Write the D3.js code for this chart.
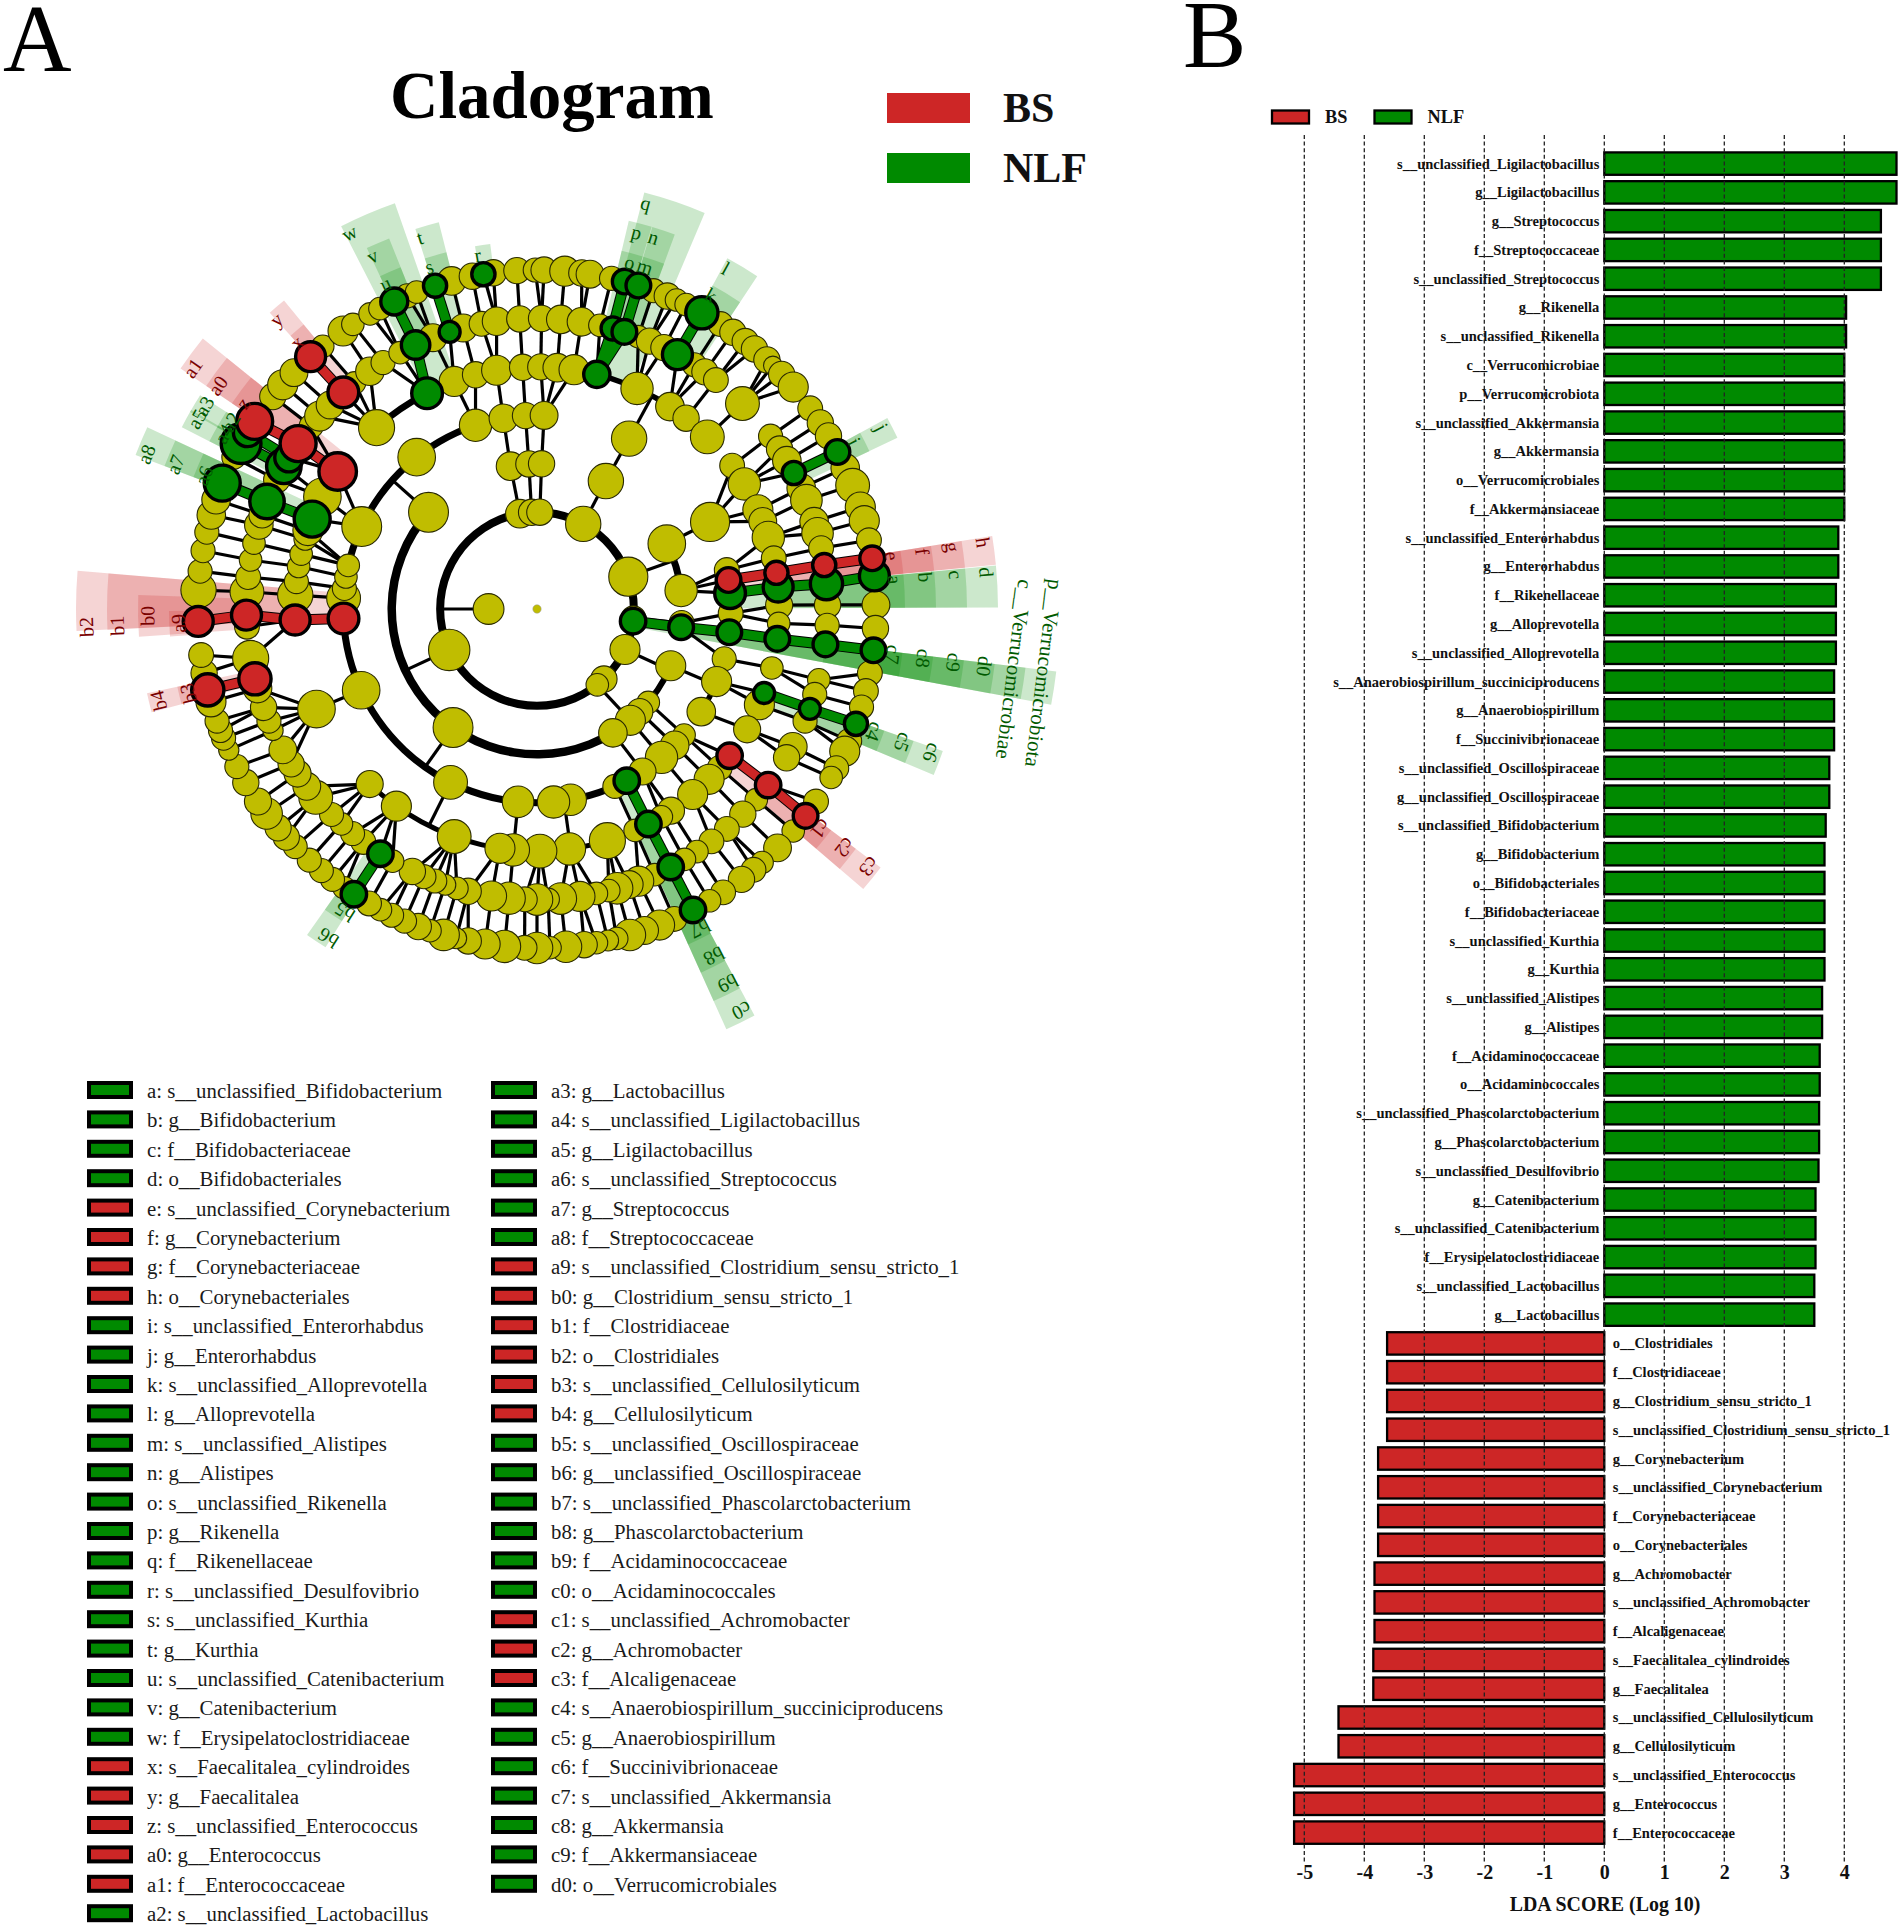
<!DOCTYPE html>
<html><head><meta charset="utf-8">
<style>html,body{margin:0;padding:0;background:#fff}svg{display:block}text{font-family:"Liberation Serif",serif}</style>
<script src="https://cdnjs.cloudflare.com/ajax/libs/d3/7.8.5/d3.min.js"></script>
</head><body><svg id="c" width="1900" height="1930"></svg>
<script>
// ---- LDA bars ----
const taxa=["s__unclassified_Ligilactobacillus","g__Ligilactobacillus","g__Streptococcus","f__Streptococcaceae","s__unclassified_Streptococcus","g__Rikenella","s__unclassified_Rikenella","c__Verrucomicrobiae","p__Verrucomicrobiota","s__unclassified_Akkermansia","g__Akkermansia","o__Verrucomicrobiales","f__Akkermansiaceae","s__unclassified_Enterorhabdus","g__Enterorhabdus","f__Rikenellaceae","g__Alloprevotella","s__unclassified_Alloprevotella","s__Anaerobiospirillum_succiniciproducens","g__Anaerobiospirillum","f__Succinivibrionaceae","s__unclassified_Oscillospiraceae","g__unclassified_Oscillospiraceae","s__unclassified_Bifidobacterium","g__Bifidobacterium","o__Bifidobacteriales","f__Bifidobacteriaceae","s__unclassified_Kurthia","g__Kurthia","s__unclassified_Alistipes","g__Alistipes","f__Acidaminococcaceae","o__Acidaminococcales","s__unclassified_Phascolarctobacterium","g__Phascolarctobacterium","s__unclassified_Desulfovibrio","g__Catenibacterium","s__unclassified_Catenibacterium","f__Erysipelatoclostridiaceae","s__unclassified_Lactobacillus","g__Lactobacillus","o__Clostridiales","f__Clostridiaceae","g__Clostridium_sensu_stricto_1","s__unclassified_Clostridium_sensu_stricto_1","g__Corynebacterium","s__unclassified_Corynebacterium","f__Corynebacteriaceae","o__Corynebacteriales","g__Achromobacter","s__unclassified_Achromobacter","f__Alcaligenaceae","s__Faecalitalea_cylindroides","g__Faecalitalea","s__unclassified_Cellulosilyticum","g__Cellulosilyticum","s__unclassified_Enterococcus","g__Enterococcus","f__Enterococcaceae"];
const ldaScores=[4.87,4.87,4.61,4.61,4.61,4.03,4.03,4.0,4.0,4.0,4.0,4.0,4.0,3.9,3.9,3.86,3.86,3.86,3.83,3.83,3.83,3.75,3.75,3.69,3.67,3.67,3.67,3.67,3.67,3.63,3.63,3.59,3.59,3.58,3.58,3.57,3.52,3.52,3.52,3.5,3.5,-3.62,-3.62,-3.62,-3.62,-3.77,-3.77,-3.77,-3.77,-3.83,-3.83,-3.83,-3.85,-3.85,-4.43,-4.43,-5.17,-5.17,-5.17];
const ldaTicks=[-5,-4,-3,-2,-1,0,1,2,3,4];
// ---- cladogram legend ----
const legendCol1=[["a: s__unclassified_Bifidobacterium","N"],["b: g__Bifidobacterium","N"],["c: f__Bifidobacteriaceae","N"],["d: o__Bifidobacteriales","N"],["e: s__unclassified_Corynebacterium","B"],["f: g__Corynebacterium","B"],["g: f__Corynebacteriaceae","B"],["h: o__Corynebacteriales","B"],["i: s__unclassified_Enterorhabdus","N"],["j: g__Enterorhabdus","N"],["k: s__unclassified_Alloprevotella","N"],["l: g__Alloprevotella","N"],["m: s__unclassified_Alistipes","N"],["n: g__Alistipes","N"],["o: s__unclassified_Rikenella","N"],["p: g__Rikenella","N"],["q: f__Rikenellaceae","N"],["r: s__unclassified_Desulfovibrio","N"],["s: s__unclassified_Kurthia","N"],["t: g__Kurthia","N"],["u: s__unclassified_Catenibacterium","N"],["v: g__Catenibacterium","N"],["w: f__Erysipelatoclostridiaceae","N"],["x: s__Faecalitalea_cylindroides","B"],["y: g__Faecalitalea","B"],["z: s__unclassified_Enterococcus","B"],["a0: g__Enterococcus","B"],["a1: f__Enterococcaceae","B"],["a2: s__unclassified_Lactobacillus","N"]];
const legendCol2=[["a3: g__Lactobacillus","N"],["a4: s__unclassified_Ligilactobacillus","N"],["a5: g__Ligilactobacillus","N"],["a6: s__unclassified_Streptococcus","N"],["a7: g__Streptococcus","N"],["a8: f__Streptococcaceae","N"],["a9: s__unclassified_Clostridium_sensu_stricto_1","B"],["b0: g__Clostridium_sensu_stricto_1","B"],["b1: f__Clostridiaceae","B"],["b2: o__Clostridiales","B"],["b3: s__unclassified_Cellulosilyticum","B"],["b4: g__Cellulosilyticum","B"],["b5: s__unclassified_Oscillospiraceae","N"],["b6: g__unclassified_Oscillospiraceae","N"],["b7: s__unclassified_Phascolarctobacterium","N"],["b8: g__Phascolarctobacterium","N"],["b9: f__Acidaminococcaceae","N"],["c0: o__Acidaminococcales","N"],["c1: s__unclassified_Achromobacter","B"],["c2: g__Achromobacter","B"],["c3: f__Alcaligenaceae","B"],["c4: s__Anaerobiospirillum_succiniciproducens","N"],["c5: g__Anaerobiospirillum","N"],["c6: f__Succinivibrionaceae","N"],["c7: s__unclassified_Akkermansia","N"],["c8: g__Akkermansia","N"],["c9: f__Akkermansiaceae","N"],["d0: o__Verrucomicrobiales","N"]];
// ---- cladogram taxa: [angle on the circle (deg), abundance, enriched group] ----
const species=[[-176.8,47],[-173.6,32],[-170.1,32],[-166.9,32],[-163.9,38],[-161.2,38],[-158.2,50,"N"],[-153.4,32],[-150.8,55,"N"],[-148.6,40,"N"],[-146.4,50,"B"],[-141.2,35],[-138.6,40],[-135.8,37],[-131.9,42,"B"],[-129.2,30],[-124.9,40],[-122.9,30],[-119.5,30],[-117.6,30],[-114.9,38,"N"],[-112.5,32],[-110.8,30],[-107.5,33,"N"],[-104.6,38],[-101,35],[-99.1,33,"N"],[-97.4,35],[-93.4,35],[-90.3,32],[-88.8,35],[-85.3,40],[-82.4,35],[-81,37],[-77.3,32],[-75,35,"N"],[-72.6,35,"N"],[-69.9,32],[-67.4,35],[-65.7,30],[-63.9,30],[-60.9,45,"N"],[-57.2,33],[-54.7,35],[-52.1,35],[-50.1,35],[-47.3,35],[-45.9,25],[-43.8,35],[-40.9,40],[-36.3,33],[-33.3,35],[-30.7,35],[-27.6,35,"N"],[-24.6,38],[-21.4,45],[-17.5,40],[-15.1,40],[-11.7,33],[-5.6,42,"N"],[-8.6,35,"B"],[-0.7,37],[3.3,35],[7,35,"N"],[10.9,33],[14,33],[16.8,32],[19.8,33,"N"],[22.9,33],[24.8,40],[28,33],[29.8,30],[34.6,33],[37.6,35,"B"],[40.9,30],[44.8,37],[48.4,30],[50.3,33],[52.9,35],[56.7,33],[59.4,30],[62.6,36,"N"],[66.1,33],[68.8,40],[71.5,37],[74.1,42],[76.4,30],[77.9,28],[79.9,30],[82,35],[85.1,42],[87.8,30],[90,42],[92.1,33],[95.5,43],[98.8,40],[101.7,35],[103.8,28],[106,42],[108.4,30],[110.5,35],[113,32],[115.4,32],[117.5,30],[119.7,33],[122.7,36,"N"],[124.7,30],[127.1,32],[129.5,32],[132.2,32],[135.5,32],[137.7,35],[139.8,35],[142.9,42],[145.4,36],[149.2,35],[152.3,32],[155.4,27],[157.6,32],[159,32],[160.7,32],[164.1,40],[166.2,45,"B"],[169.1,35],[172.2,33],[177.9,42,"B"]];
const genera=[[-176.6,45],[-173.7,33],[-170.3,30],[-166.9,30],[-163.2,38],[-161.1,35],[-158.3,48,"N"],[-153.6,35],[-150.6,48,"N"],[-148.6,40,"N"],[-145.3,50,"B"],[-141,32],[-138.4,40],[-135.4,37],[-131.8,43,"B"],[-128.9,30],[-125.1,38],[-122,32],[-118.1,30],[-114.7,40,"N"],[-111,37],[-107.5,30,"N"],[-104.7,37],[-101,33],[-98,38],[-93.4,35],[-89.1,35],[-85.3,38],[-81.2,38],[-77.5,30],[-74.9,33,"N"],[-72.5,35,"N"],[-69.6,30],[-67.2,35],[-64.1,35],[-61.1,42,"N"],[-57.2,32],[-54.7,35],[-52,33],[-45,45],[-36.5,32],[-33.4,35],[-30.7,38],[-27.9,33,"N"],[-24.6,38],[-22,42],[-17.5,38],[-15.1,42],[-12.1,33],[-5,45,"N"],[-8.7,33,"B"],[-0.8,35],[3.2,32],[7,35,"N"],[14.1,30],[17.1,32],[20.1,30,"N"],[22.7,32],[28.3,38],[30.8,35],[37.3,36,"B"],[41,30],[44.9,35],[49.2,33],[53.1,33],[56.6,30],[59.5,30],[62.6,36,"N"],[66.1,30],[69.5,40],[71.5,37],[74,42],[75.7,30],[78.2,30],[81.5,40],[85.3,42],[87.8,30],[90,42],[92.4,33],[95.5,43],[99,40],[103.7,35],[106,30],[108.4,28],[110.6,32],[112.9,32],[115.4,35],[119.8,30],[122.6,36,"N"],[126.7,33],[129.4,32],[132.3,30],[135,32],[139.6,45],[142.4,37],[145.5,36],[147.8,35],[151,37],[155.3,27],[157.3,32],[160.2,35],[164.1,38],[166.1,45,"B"],[170.2,48],[176.5,33],[178.8,42,"B"]];
const families=[[-176.7,47],[-173.5,32],[-169.9,30],[-166.9,30],[-163.2,30],[-161.1,40],[-158.2,50,"N"],[-152.4,50],[-145.4,52,"B"],[-131.5,48],[-117,43,"N"],[-110,40],[-104.7,35],[-99.6,40],[-93.4,35],[-89.1,35],[-85.2,38],[-81.2,40],[-75.7,37,"N"],[-65.6,43],[-56.7,38],[-52,35],[-45.3,45],[-36.3,33],[-31.1,43],[-24.2,40],[-21.2,37],[-17.2,43],[-12.1,33],[-5.2,42,"N"],[-8.6,33,"B"],[-0.9,36],[3.4,30],[7.1,35,"N"],[14.1,30],[20.3,30,"N"],[23.3,40],[29.8,36],[37.3,36,"B"],[41,33],[44.7,40],[50,40],[56.4,36],[59.1,30],[62.6,36,"N"],[66.1,30],[73.1,48],[82.3,43],[89.3,45],[95.6,43],[98.8,40],[110,45],[125.5,40],[133.7,36],[155.6,50],[177.4,42,"B"]];
const orders=[[-176.8,45],[-173.9,32],[-170.5,30],[-167,30],[-154.8,53],[-128.4,50],[-108.5,43],[-100,38],[-93.4,35],[-87.9,37],[-61.6,47],[-26.7,52],[-11.6,33],[-4.7,43,"N"],[-8.6,35,"B"],[1.3,33],[6.9,35,"N"],[14.9,32],[22,40],[32,38],[40.6,30],[44.7,38],[50,43],[57,36],[62.4,36,"N"],[66.3,32],[80,42],[85.1,43],[95.6,42],[116.5,45],[155.2,50],[177.2,43,"B"]];
const classes=[[-138.3,53],[-100.5,38],[-93.2,35],[-88.2,35],[-61.7,47],[-26.7,50],[-7.3,43],[5.5,33],[7.2,35,"N"],[23,40],[40,30],[45,35],[50,40],[58.5,38],[125.3,53]];
const phyla=[[-100.2,38],[-93.2,35],[-88.3,35],[-61.5,47],[-19.5,52],[5.5,33],[7.2,36,"N"],[24.7,40],[46.3,35],[51.5,30],[155,55]];
const kingdoms=[[180,41]];
// arcs that join sibling taxa: [ring, from angle, to angle, weight]
const arcs=[[2,0,360,8],[3,58.5,221.7,8.5],[3,-26.7,-7.3,7],[3,23,45,6],[4,62.4,251.5,7],[4,22,32,5.5],[5,-75.7,-45.3,5.5],[5,-131.5,-117,6.5],[5,73,133.7,5]];
// parents on an arc, with a line out to their children: [ring, angle]
const stubs=[[1,180],[2,155],[2,-19.5],[2,24.7],[3,-138.3],[3,125.3],[3,23],[4,-61.6],[4,116.5],[4,95.6],[4,82]];
// highlighted clades: [label, group, ring, centre angle, span, label angle]
const clades=[["d","N",4,-2.8,5.2,-4.7],["c","N",5,-2.8,5.2,-4.7],["b","N",6,-2.8,5.2,-4.7],["a","N",7,-2.8,5.2,-4.7],
["h","B",4,-7.3,3.6,-8.5],["g","B",5,-7.3,3.6,-8.5],["f","B",6,-7.3,3.6,-8.5],["e","B",7,-7.3,3.6,-8.5],
["j","N",6,-27,3.2,-27.8],["i","N",7,-27,3.2,-27.8],["l","N",6,-59,5,-61],["k","N",7,-59,5,-61],
["q","N",5,-71.3,8.5,-75],["n","N",6,-71.5,3.4,-72.6],["m","N",7,-71.5,3.4,-72.5],["p","N",6,-75,3.4,-75.2],["o","N",7,-75,3.4,-75],
["r","N",7,-98.5,2.4,-99.5],["t","N",6,-106,3.5,-107.5],["s","N",7,-106,3.5,-107.5],
["w","N",5,-113.2,7.8,-116.5],["v","N",6,-113.5,3.5,-115],["u","N",7,-113.5,3.5,-115],
["y","B",6,-130.7,2.7,-132],["x","B",7,-130.7,2.7,-132],["a1","B",5,-143.5,5,-145],["a0","B",6,-143.5,5,-145],["z","B",7,-143.5,5,-145],
["a3","N",6,-149,2.8,-148.6],["a2","N",7,-149,2.8,-148.6],["a5","N",6,-151.5,2.8,-150.8],["a4","N",7,-151.5,2.8,-150.8],
["a8","N",5,-157,4,-158.4],["a7","N",6,-157,4,-158.2],["a6","N",7,-157,4,-158.2],
["b2","B",4,181,7.5,177.7],["b1","B",5,181,7.5,177.7],["b0","B",6,179,6,179],["a9","B",7,177.7,4,177.7],
["b4","B",6,166.4,2.8,166.4],["b3","B",7,166.4,2.8,166.4],["b6","N",6,123.6,3.2,122.4],["b5","N",7,123.6,3.2,122.4],
["c0","N",4,63.8,3.9,63],["b9","N",5,63.8,3.9,63],["b8","N",6,63.8,3.9,63],["b7","N",7,63.8,3.9,63],
["c3","B",5,38.8,3.7,37.8],["c2","B",6,38.8,3.7,37.8],["c1","B",7,38.8,3.7,37.8],
["c6","N",5,21,3.4,20],["c5","N",6,21,3.4,20],["c4","N",7,21,3.4,20],
["p__Verrucomicrobiota","N",2,8.7,3.7,7.2],["c__Verrucomicrobiae","N",3,8.7,3.7,7.2],["d0","N",4,8.7,3.7,7.3],["c9","N",5,8.7,3.7,7.3],["c8","N",6,8.7,3.7,7.3],["c7","N",7,8.7,3.7,7.3]];
const groupNames=["BS","NLF"];

const GREEN="#008a00",RED="#cd2626",YEL="#c0bd00";
const fillOf=g=>g==="N"?GREEN:g==="B"?RED:YEL;
const svg=d3.select("#c");

// panel letters
svg.append("text").attr("x",3).attr("y",71).attr("font-size",95).text("A");
svg.append("text").attr("x",1183).attr("y",67).attr("font-size",95).text("B");
svg.append("text").attr("x",390).attr("y",118).attr("font-size",67).attr("font-weight","bold").text("Cladogram");

// cladogram legend top
const topLeg=d3.scaleOrdinal(groupNames,[93,153]);
groupNames.forEach((n,i)=>{
  svg.append("rect").attr("x",887).attr("y",topLeg(n)).attr("width",83).attr("height",30).attr("fill",i?GREEN:RED);
  svg.append("text").attr("x",1003).attr("y",topLeg(n)+29).attr("font-size",42).attr("font-weight","bold").attr("fill","#111").text(n);
});

// ---- cladogram ----
const g=svg.append("g").attr("transform","translate(537,609)");
const ringR=d3.scaleLinear([0,7],[0,339]);
const nodeR=d3.scaleLinear([0,50],[0,18.8]);
const rad=d3.scaleLinear([0,360],[0,2*Math.PI]);
const xy=(ring,a)=>[ringR(ring)*Math.cos(rad(a)),ringR(ring)*Math.sin(rad(a))];
const bandOuter=d3.scaleLinear([7,2],[368,523]);
const labelR=d3.scaleLinear([7,4],[359,451]);
const arcGen=d3.arc();

// highlighted wedges
g.selectAll("path.clade").data(clades).join("path").attr("class","clade")
 .attr("d",d=>arcGen({innerRadius:ringR(d[2]),outerRadius:bandOuter(d[2]),startAngle:rad(d[3]-d[4]/2+90),endAngle:rad(d[3]+d[4]/2+90)}))
 .attr("fill",d=>fillOf(d[1])).attr("fill-opacity",0.2);

// tree arcs
g.selectAll("path.arc").data(arcs).join("path").attr("class","arc")
 .attr("d",d=>arcGen({innerRadius:ringR(d[0])-d[3]/2,outerRadius:ringR(d[0])+d[3]/2,startAngle:rad(d[1]+90),endAngle:rad(d[2]+90)}))
 .attr("fill","#000");

const levels=[kingdoms,phyla,classes,orders,families,genera,species];
const norm=a=>{let x=a;while(x<-180)x+=360;while(x>180)x-=360;return x};
const onArc=(ring,a)=>arcs.some(c=>{if(c[0]!==ring)return false;
  for(const k of [-360,0,360]){if(a+k>=c[1]-0.01&&a+k<=c[2]+0.01)return true}return false});
const nodes=[];
levels.forEach((lst,i)=>lst.forEach(d=>nodes.push({ring:i+1,a:d[0],ab:d[1],grp:d[2]})));
const links=[],chains=[];
nodes.forEach(n=>{
  if(n.ring===1)return;
  const inner=nodes.filter(m=>m.ring===n.ring-1);
  if(!inner.length)return;
  const sameGroup=n.grp?inner.filter(m=>m.grp===n.grp&&Math.abs(norm(m.a-n.a))<6):[];
  const pool=sameGroup.length?sameGroup:inner;
  const p=pool.reduce((b,m)=>Math.abs(norm(m.a-n.a))<Math.abs(norm(b.a-n.a))?m:b,pool[0]);
  if(n.grp&&p.grp===n.grp&&Math.abs(norm(p.a-n.a))<6)chains.push({n,p});
  if(!onArc(n.ring,n.a)&&Math.abs(norm(p.a-n.a))<10)links.push({n,p});
  else if(sameGroup.length)links.push({n,p});
});
const segment=(sel,data,w,stroke)=>sel.selectAll(null).data(data).join("line")
 .attr("x1",d=>xy(d.n.ring,d.n.a)[0]).attr("y1",d=>xy(d.n.ring,d.n.a)[1])
 .attr("x2",d=>xy(d.p.ring,d.p.a)[0]).attr("y2",d=>xy(d.p.ring,d.p.a)[1])
 .attr("stroke",stroke).attr("stroke-width",w);
segment(g,links,3.2,"#000");
g.selectAll(null).data(stubs).join("line")
 .attr("x1",d=>xy(d[0],d[1])[0]).attr("y1",d=>xy(d[0],d[1])[1])
 .attr("x2",d=>xy(d[0]+1,d[1])[0]).attr("y2",d=>xy(d[0]+1,d[1])[1])
 .attr("stroke","#000").attr("stroke-width",3.2);
segment(g,chains,11,"#000");
g.selectAll(null).data(chains).join("line")
 .attr("x1",d=>xy(d.n.ring,d.n.a)[0]).attr("y1",d=>xy(d.n.ring,d.n.a)[1])
 .attr("x2",d=>xy(d.p.ring,d.p.a)[0]).attr("y2",d=>xy(d.p.ring,d.p.a)[1])
 .attr("stroke",d=>fillOf(d.n.grp)).attr("stroke-width",9);

// root dot, plain taxa, then enriched taxa
g.append("circle").attr("r",4.2).attr("fill",YEL).attr("stroke","#999").attr("stroke-width",0.5);
const draw=list=>g.selectAll(null).data(list).join("circle")
 .attr("cx",d=>xy(d.ring,d.a)[0]).attr("cy",d=>xy(d.ring,d.a)[1])
 .attr("r",d=>nodeR(d.ab)-(d.grp?0.8:0)).attr("fill",d=>fillOf(d.grp))
 .attr("stroke",d=>d.grp?"#000":"#2a2a00").attr("stroke-width",d=>d.grp?3.4:1.1);
draw(nodes.filter(n=>!n.grp));
draw(nodes.filter(n=>n.grp==="N"));
draw(nodes.filter(n=>n.grp==="B"));

// clade labels
g.selectAll("text.lab").data(clades).join("text").attr("class","lab")
 .attr("transform",d=>{
   const long=d[0].length>2;
   const r=long?(d[2]===2?511:481):labelR(d[2]);
   const p=[r*Math.cos(rad(d[5])),r*Math.sin(rad(d[5]))];
   return `translate(${p[0]},${p[1]}) rotate(${d[5]+90})`})
 .attr("text-anchor","middle").attr("dominant-baseline","central")
 .attr("font-size",d=>d[0].length>2?21:20)
 .attr("fill",d=>d[1]==="N"?"#005a00":"#7a0000").text(d=>d[0]);

// bottom legend
const legRow=d3.scaleLinear([0,1],[1090,1119.4]);
[[legendCol1,87,147],[legendCol2,491,551]].forEach(([lst,sx,tx])=>{
  const r=svg.append("g");
  r.selectAll("rect").data(lst).join("rect").attr("x",sx+2).attr("y",(d,i)=>legRow(i)-7).attr("width",42).attr("height",14)
   .attr("fill",d=>fillOf(d[1])).attr("stroke","#000").attr("stroke-width",4);
  r.selectAll("text").data(lst).join("text").attr("x",tx).attr("y",(d,i)=>legRow(i)+8).attr("font-size",20.8).attr("fill","#1a1a1a").text(d=>d[0]);
});

// ---- LDA bar chart ----
const x=d3.scaleLinear([-5,4],[1304.3,1844.3]);
const y=d3.scalePoint(taxa,[163.6,1832.6]);
const bars=svg.append("g");
bars.selectAll("rect").data(taxa).join("rect")
 .attr("x",(d,i)=>x(Math.min(0,ldaScores[i]))).attr("y",d=>y(d)-11.2)
 .attr("width",(d,i)=>Math.abs(x(ldaScores[i])-x(0))).attr("height",22.4)
 .attr("fill",(d,i)=>ldaScores[i]>0?GREEN:RED).attr("stroke","#000").attr("stroke-width",2.3);
svg.append("g").selectAll("text").data(taxa).join("text")
 .attr("x",(d,i)=>ldaScores[i]>0?x(0)-5:x(0)+8.5).attr("y",d=>y(d))
 .attr("dominant-baseline","central").attr("text-anchor",(d,i)=>ldaScores[i]>0?"end":"start")
 .attr("font-size",14.5).attr("font-weight","bold").attr("fill","#111").text(d=>d);
svg.append("g").selectAll("line").data(ldaTicks).join("line")
 .attr("x1",d=>x(d)).attr("x2",d=>x(d)).attr("y1",135).attr("y2",1862)
 .attr("stroke","#222").attr("stroke-width",1.3).attr("stroke-dasharray","4 2.6");
const ax=svg.append("g").attr("transform","translate(0,1860)").call(d3.axisBottom(x).tickValues(ldaTicks).tickSize(0).tickFormat(d=>String(d)));
ax.select(".domain").remove();
ax.selectAll("text").attr("font-family","Liberation Serif").attr("font-size",20).attr("font-weight","bold").attr("fill","#111").attr("dy","0.71em").attr("y",5);
svg.append("text").attr("x",1605).attr("y",1911).attr("text-anchor","middle").attr("font-size",19.9).attr("font-weight","bold").attr("fill","#111").text("LDA SCORE (Log 10)");
const legX=d3.scaleOrdinal(groupNames,[1271,1373.5]);
groupNames.forEach((n,i)=>{
  svg.append("rect").attr("x",legX(n)+1).attr("y",110.5).attr("width",37).attr("height",13).attr("fill",i?GREEN:RED).attr("stroke","#000").attr("stroke-width",2.3);
  svg.append("text").attr("x",legX(n)+54).attr("y",123.3).attr("font-size",18.3).attr("font-weight","bold").attr("fill","#111").text(n);
});
</script></body></html>
